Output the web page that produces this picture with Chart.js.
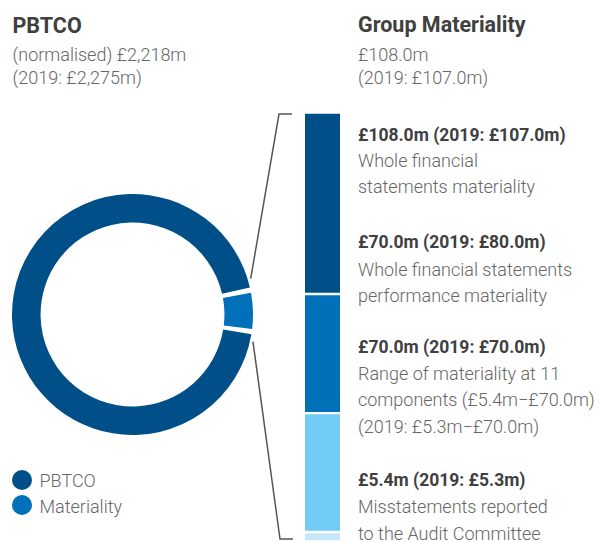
<!DOCTYPE html>
<html>
<head>
<meta charset="utf-8">
<script src="https://cdn.jsdelivr.net/npm/chart.js@4/dist/chart.umd.min.js"></script>
<style>
  html, body { margin: 0; padding: 0; background: #fff; }
  body { width: 599px; height: 542px; position: relative; overflow: hidden; font-family: Roboto, "Open Sans", sans-serif; }
  .t { position: absolute; white-space: nowrap; line-height: 1; color: #666666; font-size: 18px; font-weight: 300; }
  .b { font-weight: 700; color: #404040; font-size: 17.5px; }
  .h { font-size: 21.5px; }
  #ringWrap { position: absolute; left: 12px; top: 194px; width: 241px; height: 241px; }
  #barWrap { position: absolute; left: 245px; top: 100px; width: 115px; height: 442px; }
  .dot { position: absolute; width: 20px; height: 20px; border-radius: 50%; }
</style>
</head>
<body>
<!-- headings -->
<div class="t b h" style="left:12.5px; top:14.6px;">PBTCO</div>
<div class="t" style="left:12.5px; top:45.9px;">(normalised) £2,218m</div>
<div class="t" style="left:12.5px; top:68.9px;">(2019: £2,275m)</div>

<div class="t b h" style="left:358px; top:14.2px;">Group Materiality</div>
<div class="t" style="left:358px; top:45.6px;">£108.0m</div>
<div class="t" style="left:358px; top:68.9px;">(2019: £107.0m)</div>

<!-- notes beside the materiality bar -->
<div class="t b" style="left:358px; top:127.0px;">£108.0m (2019: £107.0m)</div>
<div class="t" style="left:358px; top:151.6px;">Whole financial</div>
<div class="t" style="left:358px; top:178.2px;">statements materiality</div>

<div class="t b" style="left:358px; top:233.6px;">£70.0m (2019: £80.0m)</div>
<div class="t" style="left:358px; top:260.6px;">Whole financial statements</div>
<div class="t" style="left:358px; top:286.6px;">performance materiality</div>

<div class="t b" style="left:358px; top:338.6px;">£70.0m (2019: £70.0m)</div>
<div class="t" style="left:358px; top:364.9px;">Range of materiality at 11</div>
<div class="t" style="left:358px; top:390.9px;">components (£5.4m−£70.0m)</div>
<div class="t" style="left:358px; top:418.2px;">(2019: £5.3m−£70.0m)</div>

<div class="t b" style="left:358px; top:472.0px;">£5.4m (2019: £5.3m)</div>
<div class="t" style="left:358px; top:498.2px;">Misstatements reported</div>
<div class="t" style="left:358px; top:524.9px;">to the Audit Committee</div>

<div id="ringWrap"><canvas id="ring"></canvas></div>
<div id="barWrap"><canvas id="bar"></canvas></div>
<div id="legend"></div>

<script>
// PBTCO ring: the whole profit figure, with group materiality cut out of it (£m)
const ringLabels = ['PBTCO', 'Materiality'];
const pbtcoTotal = [2218];
const materialityTotal = [108.0];
const ringColors = ['#004f88', '#0070b8'];

// Materiality bar, bottom to top: band sizes in £m, summing to £108.0m
const bandLabels = ['Misstatements reported', 'Component materiality', 'Performance materiality', 'Whole financial statements materiality'];
const bandValues = [2.4, 29.9, 30.0, 45.7];
const bandColors = ['#c8e7f9', '#72cbf4', '#0070b8', '#004f88'];

const ringValues = [pbtcoTotal[0] - materialityTotal[0], materialityTotal[0]];

const ringChart = new Chart(document.getElementById('ring'), {
  type: 'doughnut',
  data: {
    labels: ringLabels,
    datasets: [{
      data: ringValues,
      backgroundColor: ringColors,
      borderWidth: 0,
      spacing: 3
    }]
  },
  options: {
    responsive: true,
    maintainAspectRatio: false,
    animation: false,
    cutout: '76%',
    rotation: 97,
    layout: { padding: 0 },
    plugins: { legend: { display: false }, tooltip: { enabled: false } }
  }
});

// bracket lines joining the materiality slice to the bar
const bracketPlugin = {
  id: 'bracket',
  afterDraw(chart) {
    const ctx = chart.ctx;
    const ringCanvas = ringChart.canvas.getBoundingClientRect();
    const barCanvas = chart.canvas.getBoundingClientRect();
    const arc = ringChart.getDatasetMeta(0).data[1];
    const ox = ringCanvas.left - barCanvas.left;
    const oy = ringCanvas.top - barCanvas.top;
    const r = arc.outerRadius + 4.5;
    const a1 = arc.startAngle - 0.11;
    const a2 = arc.endAngle + 0.10;
    const p1 = { x: ox + arc.x + r * Math.cos(a1), y: oy + arc.y + r * Math.sin(a1) };
    const p2 = { x: ox + arc.x + r * Math.cos(a2), y: oy + arc.y + r * Math.sin(a2) };
    const topBar = chart.getDatasetMeta(bandValues.length - 1).data[0];
    const left = topBar.x - topBar.width / 2;
    const top = chart.chartArea.top + 1.5;
    const bottom = chart.chartArea.bottom - 2.5;
    ctx.save();
    ctx.strokeStyle = '#555555';
    ctx.lineWidth = 1.5;
    ctx.beginPath();
    ctx.moveTo(p1.x, p1.y);
    ctx.lineTo(left - 26, top);
    ctx.lineTo(left - 13, top);
    ctx.moveTo(p2.x, p2.y);
    ctx.lineTo(left - 25, bottom);
    ctx.lineTo(left - 12, bottom);
    ctx.stroke();
    ctx.restore();
  }
};

new Chart(document.getElementById('bar'), {
  type: 'bar',
  data: {
    labels: ['Group materiality'],
    datasets: bandValues.map((v, i) => ({
      label: bandLabels[i],
      data: [v],
      backgroundColor: bandColors[i],
      borderColor: '#ffffff',
      borderWidth: { top: 1.5, bottom: 1.5, left: 0, right: 0 },
      borderSkipped: false,
      barPercentage: 1,
      categoryPercentage: 1
    }))
  },
  options: {
    responsive: true,
    maintainAspectRatio: false,
    animation: false,
    layout: { padding: { left: 60, right: 20, top: 12.5, bottom: 0.5 } },
    scales: {
      x: { stacked: true, display: false },
      y: { stacked: true, display: false, min: 0, max: bandValues.reduce((a, b) => a + b, 0) }
    },
    plugins: { legend: { display: false }, tooltip: { enabled: false } }
  },
  plugins: [bracketPlugin]
});

// legend for the ring, built from its labels and colours
const legend = document.getElementById('legend');
const dotTops = [469.5, 495.3];
const textTops = [471.6, 498.2];
ringLabels.forEach((name, i) => {
  const dot = document.createElement('div');
  dot.className = 'dot';
  dot.style.left = '12px';
  dot.style.top = dotTops[i] + 'px';
  dot.style.background = ringColors[i];
  legend.appendChild(dot);
  const txt = document.createElement('div');
  txt.className = 't';
  txt.style.left = '39.5px';
  txt.style.top = textTops[i] + 'px';
  txt.textContent = name;
  legend.appendChild(txt);
});
</script>
</body>
</html>
